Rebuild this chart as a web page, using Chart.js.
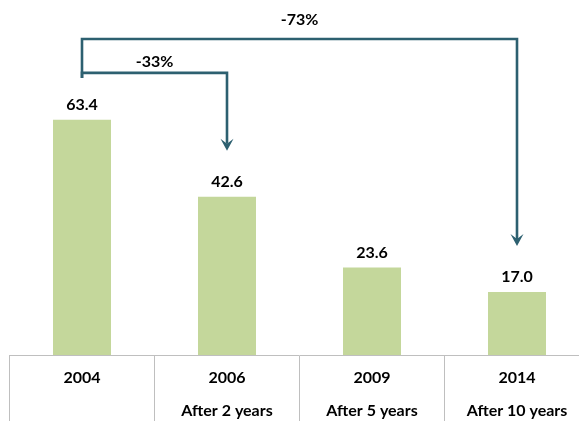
<!DOCTYPE html>
<html>
<head>
<meta charset="utf-8">
<script src="https://cdn.jsdelivr.net/npm/chart.js@4"></script>
<style>
  html, body { margin: 0; padding: 0; background: #fff; overflow: hidden; }
  #wrap { width: 600px; height: 421px; }
</style>
</head>
<body>
<div id="wrap"><canvas id="c" width="600" height="421"></canvas></div>
<script>
// Years and the time elapsed since the 2004 baseline
const years = ['2004', '2006', '2009', '2014'];
const elapsed = ['', 'After 2 years', 'After 5 years', 'After 10 years'];
// Measured values per year
const values = [63.4, 42.6, 23.6, 17.0];
// Change brackets: from the baseline year to a later year
const changes = [
  { from: 0, to: 1, level: 76.0, labelOffset: 11 },
  { from: 0, to: 3, level: 85.1, labelOffset: 19 }
];
const bracketBase = 74.6;

const BAR = '#c4d79b';
const ARROW = '#2d6070';
const GRID = '#bfbfbf';
const FONT = 'Lato, "DejaVu Sans", sans-serif';

const labels = years.map((y, i) => [y, elapsed[i]]);

const overlay = {
  id: 'overlay',
  afterDatasetsDraw(chart) {
    const ctx = chart.ctx;
    const xs = chart.scales.x, ys = chart.scales.y;
    const meta = chart.getDatasetMeta(0);
    ctx.save();
    // value labels above the bars
    ctx.fillStyle = '#000';
    ctx.font = 'bold 16px ' + FONT;
    ctx.textAlign = 'center';
    ctx.textBaseline = 'middle';
    meta.data.forEach((bar, i) => {
      ctx.fillText(values[i].toFixed(1), bar.x, bar.y - 15);
    });
    // change brackets with arrows
    const baseY = ys.getPixelForValue(bracketBase);
    changes.forEach(c => {
      const x0 = xs.getPixelForValue(c.from);
      const x1 = xs.getPixelForValue(c.to);
      const ly = ys.getPixelForValue(c.level);
      const tipY = meta.data[c.to].y - 46;
      ctx.strokeStyle = ARROW;
      ctx.fillStyle = ARROW;
      ctx.lineWidth = 2.6;
      ctx.lineJoin = 'miter';
      ctx.beginPath();
      ctx.moveTo(x0, baseY);
      ctx.lineTo(x0, ly);
      ctx.lineTo(x1, ly);
      ctx.lineTo(x1, tipY - 7);
      ctx.stroke();
      ctx.beginPath();
      ctx.moveTo(x1, tipY);
      ctx.lineTo(x1 - 6.5, tipY - 12);
      ctx.lineTo(x1, tipY - 7);
      ctx.lineTo(x1 + 6.5, tipY - 12);
      ctx.closePath();
      ctx.fill();
      const pct = Math.round((values[c.to] - values[c.from]) / values[c.from] * 100);
      ctx.fillStyle = '#000';
      ctx.fillText(pct + '%', (x0 + x1) / 2, ly - c.labelOffset);
    });
    ctx.restore();
  }
};

new Chart(document.getElementById('c'), {
  type: 'bar',
  data: {
    labels: labels,
    datasets: [{
      data: values,
      backgroundColor: BAR,
      borderWidth: 0,
      barPercentage: 0.4,
      categoryPercentage: 1.0
    }]
  },
  options: {
    responsive: false,
    animation: false,
    layout: { padding: { left: 9.5, right: 10.5, top: 58, bottom: 0 } },
    plugins: { legend: { display: false }, tooltip: { enabled: false } },
    scales: {
      y: {
        display: false,
        min: 0,
        max: 80
      },
      x: {
        offset: true,
        grid: {
          offset: true,
          drawOnChartArea: false,
          tickLength: 66,
          color: GRID,
          lineWidth: 1
        },
        border: { display: true, color: GRID, width: 1 },
        ticks: {
          autoSkip: false,
          maxRotation: 0,
          padding: -59.5,
          color: '#000',
          font: { family: FONT, size: 16, weight: 'bold', lineHeight: 33 / 16 }
        },
        afterFit(scale) { scale.height = 66; }
      }
    }
  },
  plugins: [overlay]
});
</script>
</body>
</html>
